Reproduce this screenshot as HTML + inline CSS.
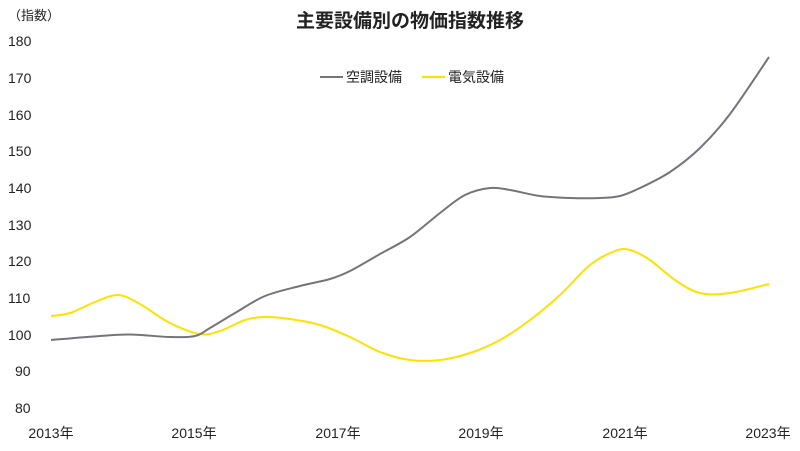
<!DOCTYPE html>
<html><head><meta charset="utf-8"><style>
body{margin:0;background:#fff;}
text{font-family:"Liberation Sans","Noto Sans CJK JP",sans-serif;fill:#222;}
</style></head><body>
<svg width="800" height="446" viewBox="0 0 800 446" xmlns="http://www.w3.org/2000/svg">
<text x="8" y="20" font-size="13" fill="#444">（指数）</text>
<text x="410" y="27" font-size="19" font-weight="bold" text-anchor="middle" fill="#333">主要設備別の物価指数推移</text>
<g font-size="14" fill="#222">
<text x="8" y="46">180</text><text x="8" y="83">170</text><text x="8" y="120">160</text>
<text x="8" y="156">150</text><text x="8" y="193">140</text><text x="8" y="230">130</text>
<text x="8" y="266">120</text><text x="8" y="303">110</text><text x="8" y="340">100</text>
<text x="15" y="376">90</text><text x="15" y="413">80</text>
</g>
<g font-size="14" text-anchor="middle">
<text x="51" y="438">2013年</text><text x="194" y="438">2015年</text><text x="338" y="438">2017年</text>
<text x="481" y="438">2019年</text><text x="625" y="438">2021年</text><text x="768" y="438">2023年</text>
</g>
<line x1="320" y1="77" x2="343" y2="77" stroke="#77737c" stroke-width="2"/>
<text x="346" y="82" font-size="14">空調設備</text>
<line x1="422" y1="77" x2="445" y2="77" stroke="#ffe100" stroke-width="2"/>
<text x="448" y="82" font-size="14">電気設備</text>
<path id="y" fill="none" stroke="#ffe100" stroke-width="2"/>
<path id="g" fill="none" stroke="#77737c" stroke-width="2"/>
</svg>
<script>
function cr(p){var d="M"+p[0][0]+","+p[0][1];for(var i=0;i<p.length-1;i++){var a=p[i-1]||p[i],b=p[i],c=p[i+1],e=p[i+2]||c;
d+=" C"+(b[0]+(c[0]-a[0])/6)+","+(b[1]+(c[1]-a[1])/6)+" "+(c[0]-(e[0]-b[0])/6)+","+(c[1]-(e[1]-b[1])/6)+" "+c[0]+","+c[1];}return d;}
var Y=[[51,316],[70,313],[95,302],[118,295],[140,304],[170,323],[200,334],[220,331],[245,320],[265,317],[290,319],[320,325],[350,337],[380,352],[410,360],[440,360],[470,353],[500,340],[530,320],[560,295],[590,265],[615,251],[630,250],[650,260],[675,280],[700,293],[730,293],[769,284]];
var G=[[51,340],[100,336],[130,334.5],[170,337],[195,336],[210,328],[235,313],[265,296],[300,286],[330,279],[350,271],[380,254],[410,237],[440,213],[465,195],[490,188],[510,190],[540,196],[570,198],[600,198],[620,196],[640,188],[670,172],[700,148],[730,114],[769,57]];
document.getElementById("y").setAttribute("d",cr(Y));
document.getElementById("g").setAttribute("d",cr(G));
</script>
</body></html>
